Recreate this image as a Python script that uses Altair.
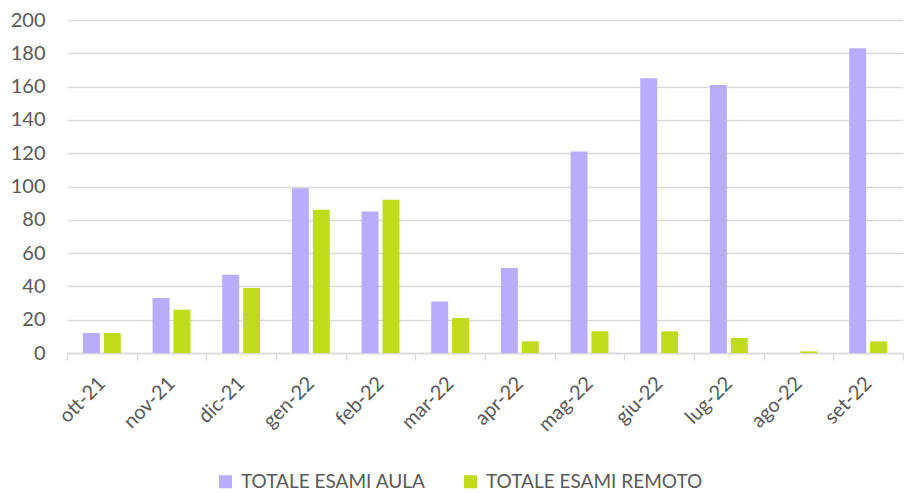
import altair as alt
import pandas as pd

months = ["ott-21", "nov-21", "dic-21", "gen-22", "feb-22", "mar-22",
          "apr-22", "mag-22", "giu-22", "lug-22", "ago-22", "set-22"]
aula = [12, 33, 47, 99, 85, 31, 51, 121, 165, 161, 0, 183]
remoto = [12, 26, 39, 86, 92, 21, 7, 13, 13, 9, 1, 7]
series = ["TOTALE ESAMI AULA", "TOTALE ESAMI REMOTO"]
colors = ["#B9ACFB", "#BFDB1C"]

rows = []
for m, a, r in zip(months, aula, remoto):
    rows.append({"mese": m, "serie": series[0], "valore": a})
    rows.append({"mese": m, "serie": series[1], "valore": r})
df = pd.DataFrame(rows)

FONT = "Lato"
GRAY = "#595959"

chart = alt.Chart(df).mark_bar().encode(
    x=alt.X("mese:N", sort=months, title=None,
            scale=alt.Scale(paddingInner=0, paddingOuter=0),
            axis=alt.Axis(labelAngle=-45, labelFont=FONT, labelFontSize=20,
                          labelColor=GRAY, domainColor="#D9D9D9", domainWidth=1.5,
                          tickColor="#D9D9D9", tickWidth=1.5, tickSize=7,
                          tickBand="extent", labelPadding=20, grid=False,
                          labelAlign="right", labelBaseline="middle")),
    xOffset=alt.XOffset("serie:N", sort=series,
                        scale=alt.Scale(paddingInner=0.19, paddingOuter=0.76)),
    y=alt.Y("valore:Q", title=None,
            scale=alt.Scale(domain=[0, 200], nice=False),
            axis=alt.Axis(values=list(range(0, 201, 20)), labelFont=FONT,
                          labelFontSize=20, labelColor=GRAY, ticks=False,
                          domain=False, labelPadding=22, gridColor="#D9D9D9",
                          gridWidth=1.5)),
    color=alt.Color("serie:N", sort=series,
                    scale=alt.Scale(domain=series, range=colors),
                    legend=alt.Legend(title=None, orient="none", direction="horizontal",
                                      legendX=149, legendY=452,
                                      symbolType="square", symbolSize=170,
                                      symbolStrokeWidth=0, symbolOpacity=1,
                                      labelFont=FONT, labelFontSize=19,
                                      labelLimit=0,
                                      labelColor=GRAY, labelOffset=6,
                                      columnPadding=35)),
).properties(
    width=836, height=333,
    autosize=alt.AutoSizeParams(type="none"),
    padding={"left": 59, "top": 12, "right": 1, "bottom": 140},
).configure_view(stroke=None)

chart.save("out.html", embed_options={"renderer": "svg", "actions": False})
